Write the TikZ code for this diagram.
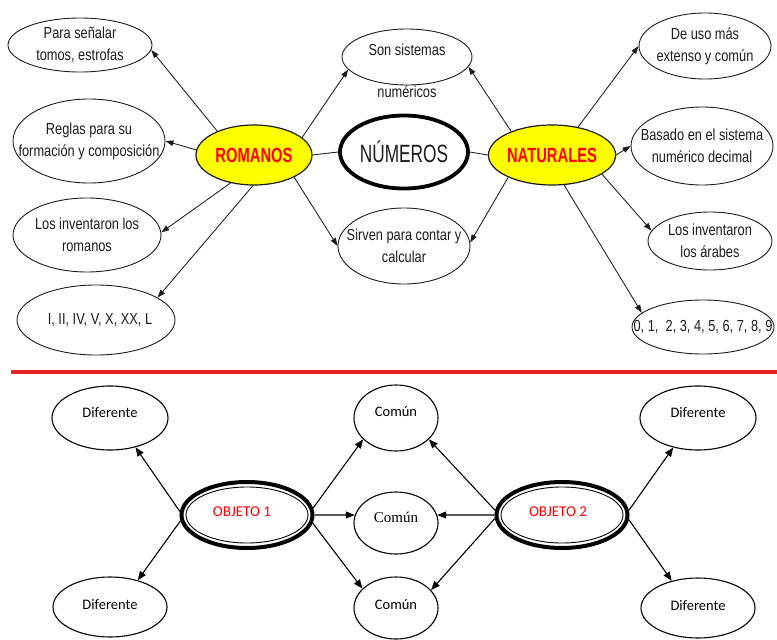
\documentclass[tikz,border=0pt]{standalone}
\usepackage{fontspec}
\usetikzlibrary{shapes.geometric,arrows.meta}
% condensed sans faces for the concept map, Carlito/Times for the comparison chart
\newfontfamily\narrowfont[FakeStretch=0.8]{Liberation Sans}
\newfontfamily\titlefont[FakeStretch=0.69]{Liberation Sans}
\newfontfamily\keyfont[FakeStretch=0.72]{Liberation Sans}
\newfontfamily\calibfont{Carlito}
\newfontfamily\timesfont{Liberation Serif}
\definecolor{keyyellow}{RGB}{255,255,0}
\definecolor{keyred}{RGB}{255,0,0}
\definecolor{rulered}{RGB}{232,35,42}
\definecolor{ink}{RGB}{28,28,28}
\tikzset{
  idea/.style={draw=ink, ellipse, inner sep=0pt, line width=0.9pt},
  txt/.style={font=\narrowfont\fontsize{16}{22}\selectfont, align=center, text=ink},
  keynode/.style={draw=ink, ellipse, fill=keyyellow, line width=1.2pt, inner sep=0pt,
    font=\keyfont\bfseries\fontsize{20.5}{20}\selectfont, text=keyred,
    minimum width=116pt, minimum height=60pt},
  topic/.style={draw=black, ellipse, line width=3.8pt, inner sep=0pt,
    font=\titlefont\fontsize{25}{25}\selectfont, text=ink,
    minimum width=128pt, minimum height=73pt},
  conn/.style={draw=ink, line width=0.85pt, -{Triangle[length=8pt,width=5.5pt]}},
  link/.style={draw=ink, line width=0.85pt},
  leaf/.style={draw=black, ellipse, line width=1.1pt, inner sep=0pt},
  ltxt/.style={font=\calibfont\fontsize{14.5}{17}\selectfont, text=black},
  objnode/.style={draw=black, ellipse, line width=4pt, inner sep=0pt,
    minimum width=131pt, minimum height=66pt},
  otxt/.style={font=\calibfont\fontsize{15}{17}\selectfont, text=keyred},
  bconn/.style={draw=black, line width=1.1pt, -{Triangle[length=9pt,width=7pt]}}
}
\begin{document}
\begin{tikzpicture}[x=1pt, y=-1pt]
\useasboundingbox (0,0) rectangle (777,640);

% ---------- concept map: NÚMEROS ----------
\node[topic] (numeros) at (404,152) {NÚMEROS};
\node[keynode] (romanos) at (254,155) {ROMANOS};
\node[keynode] (naturales) at (552,155) {NATURALES};

\node[idea, minimum width=144pt, minimum height=54pt,
  label={[txt]center:{Para señalar\\tomos, estrofas}}] (senalar) at (80,45) {};
\node[idea, minimum width=152pt, minimum height=84pt,
  label={[txt]center:{Reglas para su\\formación y composición}}] (reglas) at (89,141) {};
\node[idea, minimum width=148pt, minimum height=74pt,
  label={[txt]center:{Los inventaron los\\romanos}}] (invrom) at (87,235) {};
\node[idea, minimum width=158pt, minimum height=70pt,
  label={[txt, xshift=4pt]center:{I, II, IV, V, X, XX, L}}] (romnum) at (96,320) {};

\node[idea, minimum width=130pt, minimum height=56pt,
  label={[txt, yshift=-14pt]center:{Son sistemas\\[20pt]numéricos}}] (son) at (407,57) {};
\node[idea, minimum width=132pt, minimum height=76pt,
  label={[txt]center:{Sirven para contar y\\calcular}}] (sirven) at (404,246) {};

\node[idea, minimum width=132pt, minimum height=66pt,
  label={[txt]center:{De uso más\\extenso y común}}] (deuso) at (705,46) {};
\node[idea, minimum width=142pt, minimum height=78pt,
  label={[txt]center:{Basado en el sistema\\numérico decimal}}] (basado) at (702,146) {};
\node[idea, minimum width=124pt, minimum height=58pt,
  label={[txt]center:{Los inventaron\\los árabes}}] (invar) at (710,241) {};
\node[idea, minimum width=142pt, minimum height=54pt,
  label={[txt]center:{0, 1,~ 2, 3, 4, 5, 6, 7, 8, 9}}] (natnum) at (703,327) {};

\draw[link] (romanos.east) -- (numeros.west);
\draw[link] (naturales.west) -- (numeros.east);
\draw[conn] (romanos.147) -- (senalar.-4);
\draw[conn] (romanos.175) -- (reglas.east);
\draw[conn] (romanos.20) -- (son.192);
\draw[conn] (romanos.230) -- (invrom.2);
\draw[conn] (romanos.268) -- (romnum.20);
\draw[conn] (romanos.-29) -- (sirven.180);
\draw[conn] (naturales.150) -- (son.-9);
\draw[conn] (naturales.47) -- (deuso.180);
\draw[conn] (naturales.east) -- (basado.west);
\draw[conn] (naturales.-21) -- (invar.170);
\draw[conn] (naturales.-68) -- (natnum.167);
\draw[conn] (naturales.207) -- (sirven.3);

% ---------- separator ----------
\draw[rulered, line width=4pt] (11,372) -- (777,372);

% ---------- comparison chart ----------
\node[objnode, label={[otxt, xshift=-5pt, yshift=3pt]center:OBJETO 1}] (obj1) at (247,515) {};
\node[objnode, label={[otxt, xshift=-4pt, yshift=3pt]center:OBJETO 2}] (obj2) at (562,515) {};
\draw[line width=0.9pt] (obj1.center) ellipse [x radius=61pt, y radius=28pt];
\draw[line width=0.9pt] (obj2.center) ellipse [x radius=61pt, y radius=28pt];

\node[leaf, minimum width=116pt, minimum height=64pt,
  label={[ltxt, yshift=5pt]center:Diferente}] (difTL) at (110,418) {};
\node[leaf, minimum width=114pt, minimum height=60pt,
  label={[ltxt, yshift=2pt]center:Diferente}] (difBL) at (110,607) {};
\node[leaf, minimum width=116pt, minimum height=64pt,
  label={[ltxt, yshift=5pt]center:Diferente}] (difTR) at (698,418) {};
\node[leaf, minimum width=114pt, minimum height=60pt,
  label={[ltxt, yshift=2pt]center:Diferente}] (difBR) at (698,608) {};

\node[leaf, minimum width=84pt, minimum height=66pt,
  label={[ltxt, yshift=6pt]center:Común}] (comA) at (396,418) {};
\node[leaf, minimum width=84pt, minimum height=62pt,
  label={[font=\timesfont\fontsize{15}{17}\selectfont, yshift=6pt]center:Común}] (comB) at (396,523) {};
\node[leaf, minimum width=84pt, minimum height=62pt,
  label={[ltxt, yshift=3pt]center:Común}] (comC) at (396,608) {};

\draw[bconn] (obj1.177) -- (difTL.-49);
\draw[bconn] (obj1.185) -- (difBL.44);
\draw[bconn] (obj1.6) -- (comA.213);
\draw[bconn] (obj1.east) -- (comB.169);
\draw[bconn] (obj1.-7) -- (comC.150);
\draw[bconn] (obj2.176) -- (comA.-33);
\draw[bconn] (obj2.west) -- (comB.11);
\draw[bconn] (obj2.183) -- (comC.27);
\draw[bconn] (obj2.4) -- (difTR.230);
\draw[bconn] (obj2.-4) -- (difBR.134);
\end{tikzpicture}
\end{document}
